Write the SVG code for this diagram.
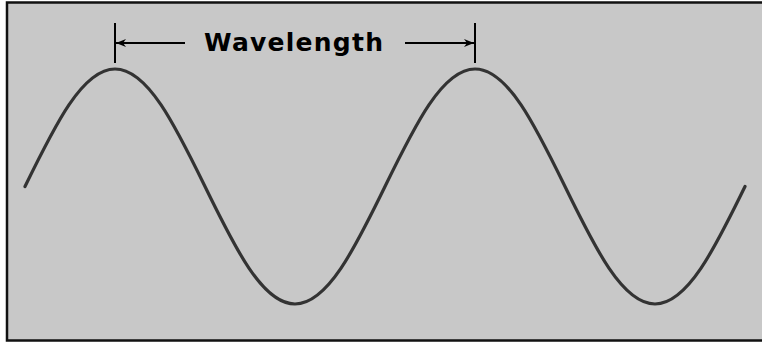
<svg xmlns="http://www.w3.org/2000/svg" width="762" height="343" viewBox="0 0 762 343">
<defs>
<style>
.dim{stroke:#000;stroke-width:2;fill:none}
.wave{stroke:#333;stroke-width:3.2;fill:none;stroke-linejoin:round;stroke-linecap:round}
.lbl{font-family:"DejaVu Sans","Liberation Sans",Arial,sans-serif;font-weight:bold;font-size:25px;fill:#000}
</style>
<marker id="ah" viewBox="0 0 10 10" refX="10" refY="5" markerWidth="10" markerHeight="10" markerUnits="userSpaceOnUse" orient="auto">
<path d="M0,1 L10,5 L0,9 L3,5 Z" fill="#000"/>
</marker>
</defs>
<rect x="0" y="0" width="762" height="343" fill="#fff"/>
<rect id="frame" x="7" y="2.5" width="760" height="338" fill="#c8c8c8" stroke="#111" stroke-width="2.5"/>
<g id="wave">
<path class="wave" d="M25,186.5 C55.09,124.8 82.53,69 115,69 S174.91,124.8 205,186.5 S262.53,304 295,304 S354.91,248.2 385,186.5 S442.53,69 475,69 S534.91,124.8 565,186.5 S622.53,304 655,304 S714.91,248.2 745,186.5"/>
</g>
<g id="connectors">
<line class="dim" x1="115" y1="23" x2="115" y2="63"/>
<line class="dim" x1="475" y1="23" x2="475" y2="63"/>
<line class="dim" x1="185" y1="43" x2="116" y2="43" marker-end="url(#ah)"/>
<line class="dim" x1="405" y1="43" x2="474" y2="43" marker-end="url(#ah)"/>
</g>
<g id="label">
<text class="lbl" x="204" y="51" textLength="179" lengthAdjust="spacing">Wavelength</text>
</g>
</svg>
